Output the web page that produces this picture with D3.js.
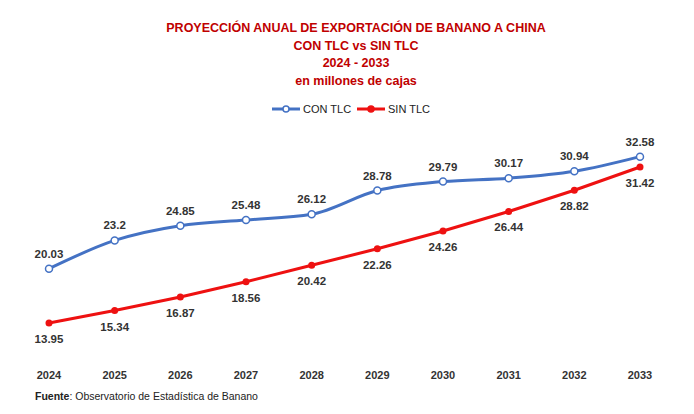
<!DOCTYPE html>
<html><head><meta charset="utf-8">
<script src="https://cdn.jsdelivr.net/npm/d3@7"></script>
<style>body{margin:0;background:#fff}text{font-family:"Liberation Sans",Arial,sans-serif}</style>
</head><body>
<script>
const years = ['2024','2025','2026','2027','2028','2029','2030','2031','2032','2033'];
const conTlc = [20.03, 23.2, 24.85, 25.48, 26.12, 28.78, 29.79, 30.17, 30.94, 32.58];
const sinTlc = [13.95, 15.34, 16.87, 18.56, 20.42, 22.26, 24.26, 26.44, 28.82, 31.42];
const titles = ['PROYECCIÓN ANUAL DE EXPORTACIÓN DE BANANO A CHINA', 'CON TLC vs SIN TLC', '2024 - 2033', 'en millones de cajas'];

const W = 694, H = 414;
const svg = d3.select('body').append('svg').attr('width', W).attr('height', H);

const x = d3.scalePoint().domain(years).range([49, 640]);
const y = d3.scaleLinear().domain([13.95, 31.42]).range([323, 167]);

titles.forEach((t, i) => {
    svg.append('text').attr('x', 356).attr('y', 32 + i * 17.5).attr('text-anchor', 'middle')
        .style('font-size', '12.5px').style('font-weight', 'bold').style('fill', '#c00000').text(t);
});

// legend
const lg = svg.append('g');
[[ 'CON TLC', '#4472c4', '#fff', 272], ['SIN TLC', '#ee1111', '#ee1111', 357]].forEach(d => {
    lg.append('line').attr('x1', d[3]).attr('x2', d[3] + 28).attr('y1', 109).attr('y2', 109)
        .style('stroke', d[1]).style('stroke-width', 3);
    lg.append('circle').attr('cx', d[3] + 14).attr('cy', 109).attr('r', 3)
        .style('fill', d[2]).style('stroke', d[1]).style('stroke-width', 1.5);
    lg.append('text').attr('x', d[3] + 31).attr('y', 113).style('font-size', '11px').style('fill', '#222').text(d[0]);
});

const smooth = d3.line().x((d, i) => x(years[i])).y(d => y(d)).curve(d3.curveMonotoneX);
const straight = d3.line().x((d, i) => x(years[i])).y(d => y(d));

svg.append('path').attr('d', smooth(conTlc)).style('fill', 'none').style('stroke', '#4472c4').style('stroke-width', 3);
svg.append('path').attr('d', straight(sinTlc)).style('fill', 'none').style('stroke', '#ee1111').style('stroke-width', 3);

svg.selectAll('.pb').data(conTlc).enter().append('circle')
    .attr('cx', (d, i) => x(years[i])).attr('cy', d => y(d)).attr('r', 3.5)
    .style('fill', '#fff').style('stroke', '#4472c4').style('stroke-width', 1.5);
svg.selectAll('.pr').data(sinTlc).enter().append('circle')
    .attr('cx', (d, i) => x(years[i])).attr('cy', d => y(d)).attr('r', 3.5)
    .style('fill', '#ee1111');

svg.selectAll('.lb').data(conTlc).enter().append('text')
    .attr('x', (d, i) => x(years[i])).attr('y', d => y(d) - 11).attr('text-anchor', 'middle')
    .style('font-size', '11.5px').style('font-weight', 'bold').style('fill', '#333').text(d => d);
svg.selectAll('.lr').data(sinTlc).enter().append('text')
    .attr('x', (d, i) => x(years[i])).attr('y', d => y(d) + 20).attr('text-anchor', 'middle')
    .style('font-size', '11.5px').style('font-weight', 'bold').style('fill', '#333').text(d => d);

svg.selectAll('.yr').data(years).enter().append('text')
    .attr('x', d => x(d)).attr('y', 379).attr('text-anchor', 'middle')
    .style('font-size', '11px').style('font-weight', 'bold').style('fill', '#333').text(d => d);

const f = svg.append('text').attr('x', 35).attr('y', 400).style('font-size', '10.5px').style('fill', '#222');
f.append('tspan').style('font-weight', 'bold').text('Fuente');
f.append('tspan').text(': Observatorio de Estadística de Banano');
</script>
</body></html>
